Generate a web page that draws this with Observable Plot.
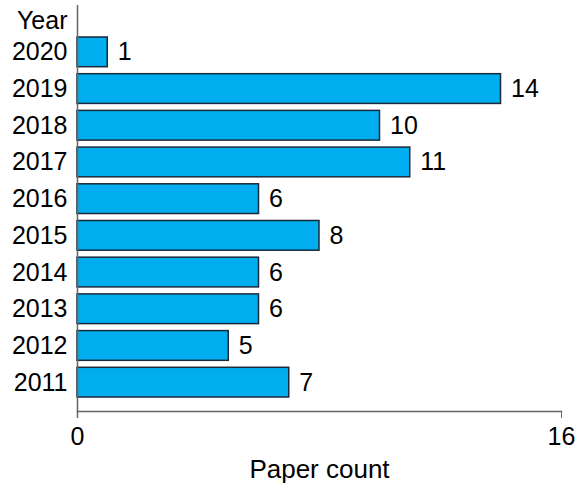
<!DOCTYPE html>
<html>
<head>
<meta charset="utf-8">
<script src="https://cdn.jsdelivr.net/npm/d3@7"></script>
<script src="https://cdn.jsdelivr.net/npm/@observablehq/plot@0.6"></script>
<style>
  html, body { margin: 0; padding: 0; background: #fff; }
  svg { display: block; }
</style>
</head>
<body>
<div id="chart"></div>
<script>
const years = ["2020", "2019", "2018", "2017", "2016", "2015", "2014", "2013", "2012", "2011"];
const counts = [1, 14, 10, 11, 6, 8, 6, 6, 5, 7];
const xTicks = [0, 16];

const data = years.map((y, i) => ({year: y, count: counts[i]}));

const plot = Plot.plot({
  width: 576,
  height: 487,
  marginLeft: 77,
  marginRight: 15,
  marginTop: 5,
  marginBottom: 76,
  style: {fontFamily: "'Liberation Sans', Arial, Helvetica, sans-serif", fontSize: "25px", background: "#fff", color: "#000"},
  x: {domain: [0, 16]},
  y: {domain: years, range: [33.5, 400.5], paddingInner: 0.19, paddingOuter: 0.095, round: false},
  marks: [
    Plot.barX(data, {x: "count", y: "year", fill: "#00aeef", stroke: "#1b2a3a", strokeWidth: 1.5}),
    Plot.text(data, {x: "count", y: "year", text: d => String(d.count), textAnchor: "start", lineAnchor: "middle", dx: 10, fill: "#000", fontSize: 25}),
    Plot.frame({anchor: "bottom", stroke: "#666", strokeWidth: 1.5}),
    Plot.ruleX([0], {stroke: "#666", strokeWidth: 1.5, insetBottom: -7}),
    Plot.axisX({ticks: xTicks, tickSize: 7, tickPadding: 9, tickFormat: d => String(d), label: null, stroke: "#666", fill: "#000", fontSize: 25}),
    Plot.axisY({tickSize: 0, tickPadding: 10, label: null, fill: "#000", fontSize: 25}),
    Plot.text(["Year"], {frameAnchor: "top-left", dx: -10, dy: 15, textAnchor: "end", lineAnchor: "middle", fill: "#000", fontSize: 25}),
    Plot.text(["Paper count"], {frameAnchor: "bottom", dy: 58, lineAnchor: "middle", fill: "#000", fontSize: 26})
  ]
});
document.getElementById("chart").append(plot);
</script>
</body>
</html>
